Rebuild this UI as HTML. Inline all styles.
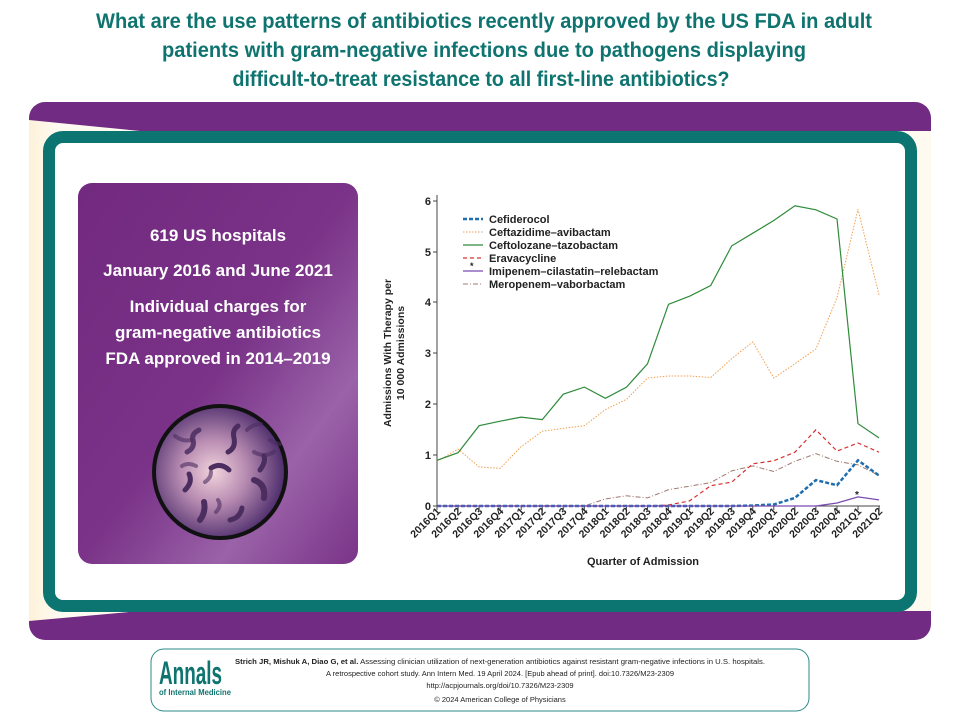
<!DOCTYPE html>
<html><head><meta charset="utf-8"><style>
html,body{margin:0;padding:0;background:#fff;width:960px;height:720px;overflow:hidden}
svg{display:block;font-family:"Liberation Sans",sans-serif}
</style></head><body>
<svg width="960" height="720" viewBox="0 0 960 720" xmlns="http://www.w3.org/2000/svg">
<defs>
<linearGradient id="cream" x1="0" x2="1" y1="0" y2="0">
<stop offset="0" stop-color="#fdf1d8"/><stop offset="0.03" stop-color="#fffaf0"/><stop offset="1" stop-color="#fffaf0"/>
</linearGradient>
<linearGradient id="pbox" x1="0" y1="0" x2="1" y2="1">
<stop offset="0" stop-color="#72297f"/><stop offset="0.5" stop-color="#7a3388"/><stop offset="0.75" stop-color="#9a62a8"/><stop offset="1" stop-color="#7a3388"/>
</linearGradient>
<radialGradient id="ball" cx="0.45" cy="0.5" r="0.55">
<stop offset="0" stop-color="#f2d3dc"/><stop offset="0.45" stop-color="#b88cb2"/><stop offset="1" stop-color="#4a2a6a"/>
</radialGradient>
</defs>

<g fill="#0f7470" font-weight="bold" font-size="21" text-anchor="middle">
<text x="484" y="28" textLength="776" lengthAdjust="spacingAndGlyphs">What are the use patterns of antibiotics recently approved by the US FDA in adult</text>
<text x="484" y="57" textLength="644" lengthAdjust="spacingAndGlyphs">patients with gram-negative infections due to pathogens displaying</text>
<text x="481" y="86" textLength="497" lengthAdjust="spacingAndGlyphs">difficult-to-treat resistance to all first-line antibiotics?</text>
</g>

<rect x="29" y="102" width="902" height="538" rx="16" fill="#712b82"/>
<path d="M29 120 L140 131 L931 131 L931 611 L140 611 L29 621 Z" fill="url(#cream)"/>
<rect x="49" y="137" width="862" height="469" rx="14" fill="#fff" stroke="#0c7571" stroke-width="12"/>

<rect x="78" y="183" width="280" height="381" rx="14" fill="url(#pbox)"/>
<g fill="#fff" font-weight="bold" font-size="17" text-anchor="middle">
<text x="218" y="241">619 US hospitals</text>
<text x="218" y="276">January 2016 and June 2021</text>
<text x="218" y="312">Individual charges for</text>
<text x="218" y="338">gram-negative antibiotics</text>
<text x="218" y="364">FDA approved in 2014–2019</text>
</g>
<circle cx="220" cy="472" r="66" fill="url(#ball)" stroke="#111" stroke-width="4"/>
<g fill="none" stroke="#4b2d60" stroke-linecap="round">
<path d="M187 452 q8 -4 6 -12 q-2 -6 6 -10" stroke-width="5" opacity="0.85"/>
<path d="M228 452 q8 -4 6 -14 q-2 -8 4 -12" stroke-width="5"/>
<path d="M211 468 q10 -6 18 2" stroke-width="5"/>
<path d="M254 452 q10 6 20 0" stroke-width="4" opacity="0.6"/>
<path d="M254 480 q12 4 10 18" stroke-width="6"/>
<path d="M185 490 q8 -8 4 -16" stroke-width="5"/>
<path d="M200 520 q6 -8 4 -18" stroke-width="6"/>
<path d="M230 520 q10 -2 12 -12" stroke-width="5"/>
<path d="M260 470 q6 -8 4 -14" stroke-width="5"/>
<path d="M175 436 q8 6 16 4" stroke-width="4" opacity="0.6"/>
<path d="M205 482 q6 -4 6 -10" stroke-width="4" opacity="0.6"/>
<path d="M182 466 q6 -4 14 0" stroke-width="4" opacity="0.6"/>
<path d="M247 430 q6 -6 14 -6" stroke-width="4" opacity="0.6"/>
<path d="M218 500 q4 6 -2 12" stroke-width="4" opacity="0.6"/>
<path d="M270 440 q6 4 10 4" stroke-width="4" opacity="0.6"/>
</g>

<!-- chart -->
<g font-size="11" fill="#222">
<line x1="437" y1="195" x2="437" y2="506" stroke="#444" stroke-width="1"/>
<line x1="437" y1="506" x2="880" y2="506" stroke="#444" stroke-width="1"/>
<g text-anchor="end" font-weight="bold">
<text x="431" y="510">0</text><text x="431" y="459">1</text><text x="431" y="408">2</text>
<text x="431" y="357">3</text><text x="431" y="306">4</text><text x="431" y="256">5</text><text x="431" y="205">6</text>
</g>
<g stroke="#444">
<line x1="433" y1="506" x2="437" y2="506"/><line x1="433" y1="455" x2="437" y2="455"/><line x1="433" y1="404" x2="437" y2="404"/>
<line x1="433" y1="353" x2="437" y2="353"/><line x1="433" y1="302" x2="437" y2="302"/><line x1="433" y1="252" x2="437" y2="252"/><line x1="433" y1="201" x2="437" y2="201"/>
</g>
<g id="xl" font-size="10.5" font-weight="bold" text-anchor="end"></g>
<text x="0" y="0" transform="translate(391 353) rotate(-90)" text-anchor="middle" font-size="10.5" font-weight="bold">Admissions With Therapy per</text>
<text x="0" y="0" transform="translate(404 353) rotate(-90)" text-anchor="middle" font-size="10.5" font-weight="bold">10 000 Admissions</text>
<text x="643" y="565" text-anchor="middle" font-size="11" font-weight="bold">Quarter of Admission</text>
</g>
<g id="series"></g>
<g font-size="11" fill="#222" font-weight="bold">
<line x1="463" y1="219" x2="483" y2="219" stroke="#1f6fb0" stroke-width="2.5" stroke-dasharray="4,2"/>
<text x="489" y="223">Cefiderocol</text>
<line x1="463" y1="232" x2="483" y2="232" stroke="#f0a050" stroke-width="1" stroke-dasharray="1.5,1.5"/>
<text x="489" y="236">Ceftazidime–avibactam</text>
<line x1="463" y1="245" x2="483" y2="245" stroke="#2e8b3a" stroke-width="1.2"/>
<text x="489" y="249">Ceftolozane–tazobactam</text>
<line x1="463" y1="258" x2="483" y2="258" stroke="#d83030" stroke-width="1.2" stroke-dasharray="4,3"/>
<text x="489" y="262">Eravacycline</text>
<line x1="463" y1="271" x2="483" y2="271" stroke="#7a4ab0" stroke-width="1.2"/>
<text x="470" y="269" font-size="9">*</text>
<text x="489" y="275">Imipenem–cilastatin–relebactam</text>
<line x1="463" y1="284" x2="483" y2="284" stroke="#a07870" stroke-width="1" stroke-dasharray="5,2,1,2"/>
<text x="489" y="288">Meropenem–vaborbactam</text>
<text x="855" y="498" font-size="10">*</text>
</g>

<!-- footer -->
<rect x="151" y="649" width="658" height="62" rx="13" fill="#fff" stroke="#2a8a88" stroke-width="1"/>
<text x="159" y="684" font-size="32" font-weight="bold" fill="#0f7470" textLength="63" lengthAdjust="spacingAndGlyphs">Annals</text>
<text x="159" y="695" font-size="8" font-weight="bold" fill="#0f7470" textLength="72" lengthAdjust="spacingAndGlyphs">of Internal Medicine</text>
<g font-size="7.5" fill="#222" text-anchor="middle">
<text x="500" y="664" textLength="530" lengthAdjust="spacingAndGlyphs"><tspan font-weight="bold">Strich JR, Mishuk A, Diao G, et al.</tspan> Assessing clinician utilization of next-generation antibiotics against resistant gram-negative infections in U.S. hospitals.</text>
<text x="500" y="676">A retrospective cohort study. Ann Intern Med. 19 April 2024. [Epub ahead of print]. doi:10.7326/M23-2309</text>
<text x="500" y="688">http://acpjournals.org/doi/10.7326/M23-2309</text>
<text x="500" y="702">© 2024 American College of Physicians</text>
</g>
</svg>
<script>
var x0=437,dx=21.05,y0=506,k=50.8,ns="http://www.w3.org/2000/svg";
var labs=[];for(var y=2016;y<=2021;y++)for(var q=1;q<=4;q++)labs.push(y+"Q"+q);labs=labs.slice(0,22);
var xl=document.getElementById("xl");
labs.forEach(function(l,i){var x=x0+i*dx;var t=document.createElementNS(ns,"text");t.setAttribute("transform","translate("+(x+4)+" 512) rotate(-45)");t.textContent=l;xl.appendChild(t);
var tk=document.createElementNS(ns,"line");tk.setAttribute("x1",x);tk.setAttribute("x2",x);tk.setAttribute("y1",506);tk.setAttribute("y2",510);tk.setAttribute("stroke","#444");xl.appendChild(tk);});
function S(d,c,w,da){var p=document.createElementNS(ns,"polyline");p.setAttribute("points",d.map(function(v,i){return (x0+i*dx).toFixed(1)+","+(y0-v*k).toFixed(1)}).join(" "));p.setAttribute("fill","none");p.setAttribute("stroke",c);p.setAttribute("stroke-width",w);if(da)p.setAttribute("stroke-dasharray",da);document.getElementById("series").appendChild(p);}
S([0,0,0,0,0,0,0,0,0.14,0.2,0.16,0.32,0.39,0.46,0.69,0.79,0.68,0.88,1.03,0.88,0.81,0.6],"#a07870",1,"5,2,1,2");
S([0,0,0,0,0,0,0,0,0,0,0,0.02,0.1,0.4,0.47,0.83,0.89,1.06,1.5,1.08,1.24,1.06],"#d83030",1.2,"4,3");
S([0.88,1.12,0.77,0.74,1.17,1.47,1.53,1.58,1.9,2.1,2.52,2.56,2.56,2.53,2.9,3.23,2.52,2.8,3.09,4.1,5.84,4.16],"#f0a050",1,"1.5,1.5");
S([0.9,1.05,1.58,1.67,1.75,1.7,2.2,2.34,2.12,2.34,2.8,3.97,4.13,4.34,5.12,5.37,5.62,5.91,5.83,5.65,1.62,1.34],"#2e8b3a",1.2);
S([0,0,0,0,0,0,0,0,0,0,0,0,0,0,0,0.01,0.03,0.16,0.51,0.41,0.9,0.6],"#1f6fb0",2.5,"4,2");
S([0,0,0,0,0,0,0,0,0,0,0,0,0,0,0,0,0,0,0,0.06,0.18,0.12],"#7a4ab0",1.2);
</script>
</body></html>
